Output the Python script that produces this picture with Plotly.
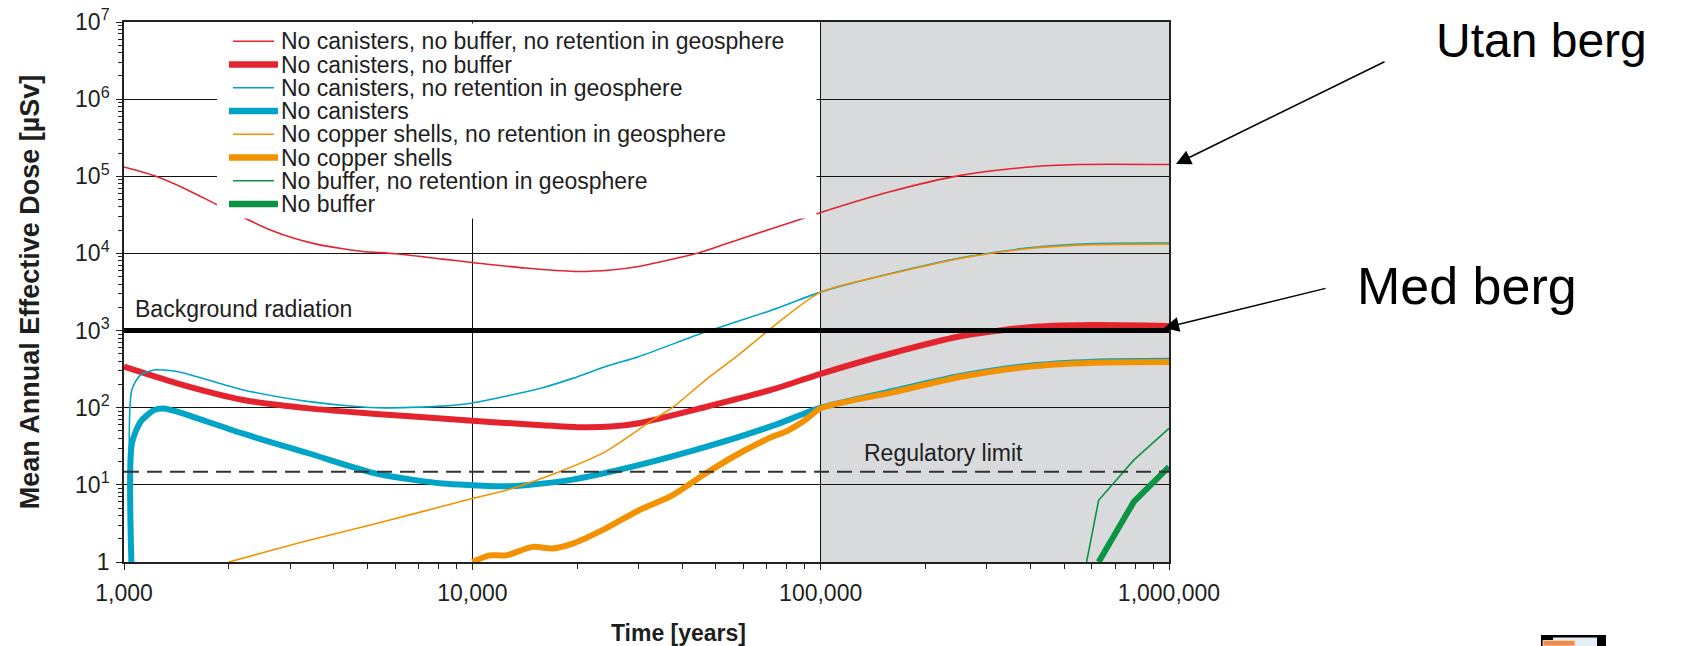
import plotly.graph_objects as go

# ---------------- data ----------------
red_thin_t = [1000, 1218, 1517, 1848, 2249, 2623, 3060, 3566, 4254, 4853, 6040, 8200, 10000, 14200, 19700,
              25000, 30000, 45000, 60000, 88000, 100000, 160000, 250000, 390000, 550000, 1000000]
red_thin_d = [132000, 102000, 67100, 42900, 27900, 20300, 15800, 13200, 11500, 10600, 9900, 8440, 7640, 6460,
              5840, 6100, 6780, 10300, 15900, 28000, 34000, 64000, 102000, 131000, 142000, 142000]

red_thick_t = [1000, 1420, 2200, 3400, 5300, 10000, 15000, 20000, 25000, 30000, 47000, 72000, 100000,
               160000, 250000, 390000, 600000, 1000000]
red_thick_d = [340, 207, 126, 98, 83, 68, 60, 56, 57, 63, 103, 170, 275, 508, 836, 1100, 1180, 1150]

cyan_thin_t = [1050, 1053, 1116, 1220, 1420, 2200, 3400, 5300, 8200, 10000, 15800, 19400, 24500, 30000,
               47000, 72600, 100000, 161000, 251000, 391000, 608000, 1000000]
cyan_thin_d = [1, 170, 266, 308, 294, 170, 120, 100, 105, 115, 180, 240, 350, 459, 970, 1850, 3150, 5560,
               8700, 11700, 13400, 13600]

cyan_thick_t = [1050, 1053, 1116, 1220, 1300, 1420, 2200, 3400, 5300, 8200, 10000, 12500, 14200, 19400,
                30000, 46800, 72600, 100000, 161000, 251000, 391000, 608000, 1000000]
cyan_thick_d = [1, 34, 66, 93, 98, 89, 46, 25.5, 14, 10.4, 9.9, 9.6, 9.9, 11.7, 18, 31, 58, 100, 165,
                258, 348, 395, 405]

orange_thin_t = [2000, 3400, 5300, 10000, 12500, 17700, 24100, 32900, 37500, 46800, 58000, 70300, 100000,
                 161000, 251000, 391000, 608000, 1000000]
orange_thin_d = [1, 1.91, 3.15, 6.65, 8.5, 14.7, 27, 69, 100, 230, 480, 980, 3150, 5500, 8600, 11500,
                 13000, 13200]

orange_thick_t = [10000, 11200, 12500, 14900, 17000, 19400, 24100, 30100, 37500, 46700, 58300, 72600,
                  79400, 90500, 100000, 161000, 251000, 391000, 608000, 1000000]
orange_thick_d = [1, 1.22, 1.22, 1.57, 1.5, 1.73, 2.71, 4.69, 7.3, 14, 25.5, 42, 49, 70, 98, 158, 250,
                  338, 383, 392]

green_thin_t = [580000, 628000, 792000, 1000000]
green_thin_d = [1, 6.3, 20.9, 54]

green_thick_t = [628000, 792000, 1000000]
green_thick_d = [1, 6.0, 17.1]

background_t = [1000, 1000000]
background_d = [1000, 1000]
regulatory_t = [1000, 1000000]
regulatory_d = [14.8, 14.8]

series_names = [
    "No canisters, no buffer, no retention in geosphere",
    "No canisters, no buffer",
    "No canisters, no retention in geosphere",
    "No canisters",
    "No copper shells, no retention in geosphere",
    "No copper shells",
    "No buffer, no retention in geosphere",
    "No buffer",
]

x_tick_vals = [1000, 10000, 100000, 1000000]
x_tick_text = ["1,000", "10,000", "100,000", "1,000,000"]
y_tick_vals = [1, 10, 100, 1000, 10000, 100000, 1000000, 10000000]
y_tick_text = ["1", "10<sup>1</sup>", "10<sup>2</sup>", "10<sup>3</sup>", "10<sup>4</sup>",
               "10<sup>5</sup>", "10<sup>6</sup>", "10<sup>7</sup>"]

# ---------------- styling ----------------
W, H = 1684, 646
ML, MR, MT, MB = 124, 515, 22, 84
PL, PR, PT, PB = ML, W - MR, MT, H - MB
FONT = "Arial, Liberation Sans, Helvetica, sans-serif"
TXT = "#1e1e1e"
RED, CYAN, ORANGE, GREEN = "#e3242f", "#00a4c6", "#f39200", "#0a9444"
THIN, THICK = 1.6, 6


def px(x):
    return (x - PL) / (PR - PL)


def py(y):
    return (PB - y) / (PB - PT)


series = [
    (red_thin_t, red_thin_d, RED, THIN),
    (red_thick_t, red_thick_d, RED, THICK),
    (cyan_thin_t, cyan_thin_d, CYAN, THIN),
    (cyan_thick_t, cyan_thick_d, CYAN, THICK),
    (orange_thin_t, orange_thin_d, ORANGE, THIN),
    (orange_thick_t, orange_thick_d, ORANGE, THICK),
    (green_thin_t, green_thin_d, GREEN, THIN),
    (green_thick_t, green_thick_d, GREEN, THICK),
]

fig = go.Figure()
for (t, d, c, w), name in zip(series, series_names):
    smooth = c != GREEN
    fig.add_trace(go.Scatter(
        x=t, y=d, mode="lines", name=name, showlegend=False,
        line=dict(color=c, width=w, shape="spline" if smooth else "linear", smoothing=0.7),
    ))

fig.add_trace(go.Scatter(x=background_t, y=background_d, mode="lines", name="Background radiation",
                         showlegend=False, line=dict(color="black", width=5)))
fig.add_trace(go.Scatter(x=regulatory_t, y=regulatory_d, mode="lines", name="Regulatory limit",
                         showlegend=False, line=dict(color="#333333", width=2, dash="15px,8px")))

shapes = []
# grey "beyond 100,000 years" region
shapes.append(dict(type="rect", xref="x", yref="paper", x0=100000, x1=1000000, y0=0, y1=1,
                   fillcolor="#d9dadc", line=dict(width=0), layer="below"))
# legend box (white, covers grid and curves)
shapes.append(dict(type="rect", xref="paper", yref="paper", x0=px(217), x1=px(816.5),
                   y0=py(218.5), y1=py(PT + 1.5), fillcolor="white", line=dict(width=0), layer="above"))

annotations = []
row0, step = 41.3, 23.25
for i, ((t, d, c, w), name) in enumerate(zip(series, series_names)):
    yc = row0 + step * i
    x0, x1 = (233, 274) if w == THIN else (229, 278)
    shapes.append(dict(type="line", xref="paper", yref="paper", x0=px(x0), x1=px(x1), y0=py(yc), y1=py(yc),
                       line=dict(color=c, width=w if w == THIN else 6.5), layer="above"))
    annotations.append(dict(text=name, xref="paper", yref="paper", x=px(279), y=py(yc), xanchor="left",
                            yanchor="middle", showarrow=False, font=dict(size=23, color=TXT, family=FONT)))

annotations.append(dict(text="Background radiation", xref="paper", yref="paper", x=px(133), y=py(309),
                        xanchor="left", yanchor="middle", showarrow=False,
                        font=dict(size=23, color=TXT, family=FONT)))
annotations.append(dict(text="Regulatory limit", xref="paper", yref="paper", x=px(862), y=py(453),
                        xanchor="left", yanchor="middle", showarrow=False,
                        font=dict(size=23, color=TXT, family=FONT)))

# slide annotations with arrows
annotations.append(dict(text="Utan berg", xref="paper", yref="paper", x=px(1434), y=py(40),
                        xanchor="left", yanchor="middle", showarrow=False,
                        font=dict(size=48, color="black", family=FONT)))
annotations.append(dict(text="Med berg", xref="paper", yref="paper", x=px(1355), y=py(286),
                        xanchor="left", yanchor="middle", showarrow=False,
                        font=dict(size=52, color="black", family=FONT)))
annotations.append(dict(text="", xref="paper", yref="paper", x=px(1176), y=py(164), ax=210, ay=-103,
                        showarrow=True, arrowhead=2, arrowsize=2.0, arrowwidth=1.5, arrowcolor="black",
                        standoff=0))
annotations.append(dict(text="", xref="paper", yref="paper", x=px(1164), y=py(328), ax=163, ay=-40,
                        showarrow=True, arrowhead=2, arrowsize=2.0, arrowwidth=1.5, arrowcolor="black",
                        standoff=0))

# small slide icon at the bottom right
shapes.append(dict(type="rect", xref="paper", yref="paper", x0=px(1541), x1=px(1606), y0=py(646),
                   y1=py(635), fillcolor="black", line=dict(width=0), layer="above"))
shapes.append(dict(type="rect", xref="paper", yref="paper", x0=px(1553), x1=px(1597), y0=py(646),
                   y1=py(637.5), fillcolor="#e6eef6", line=dict(width=0), layer="above"))
shapes.append(dict(type="rect", xref="paper", yref="paper", x0=px(1543), x1=px(1575), y0=py(646),
                   y1=py(640.5), fillcolor="#f08a4b", line=dict(color="#f9d2b8", width=1), layer="above"))

minor_x = [m * 10 ** e for e in range(3, 6) for m in range(2, 10)]
minor_y = [m * 10 ** e for e in range(0, 7) for m in range(2, 10)]

fig.update_layout(
    width=W, height=H,
    margin=dict(l=ML, r=MR, t=MT, b=MB, pad=0, autoexpand=False),
    paper_bgcolor="white", plot_bgcolor="white",
    font=dict(family=FONT, size=23, color=TXT),
    showlegend=False,
    shapes=shapes, annotations=annotations,
    xaxis=dict(
        type="log", range=[3, 6], tickmode="array", tickvals=x_tick_vals, ticktext=x_tick_text,
        ticks="outside", ticklen=6, tickwidth=1.2, tickcolor="#222", automargin=False,
        showgrid=True, gridcolor="#111", gridwidth=1.3,
        showline=True, linecolor="#222", linewidth=1.6, mirror=True,
        minor=dict(tickmode="array", tickvals=minor_x, ticks="outside", ticklen=5, tickwidth=1,
                   tickcolor="#222", showgrid=False),
        tickfont=dict(size=23, color=TXT), ticklabelstandoff=4,
        title=dict(text="&nbsp;" * 10 + "<b>Time [years]</b>", font=dict(size=23, color=TXT), standoff=20),
        zeroline=False,
    ),
    yaxis=dict(
        type="log", range=[0, 7], tickmode="array", tickvals=y_tick_vals, ticktext=y_tick_text,
        ticks="outside", ticklen=6, tickwidth=1.2, tickcolor="#222", automargin=False,
        showgrid=True, gridcolor="#111", gridwidth=1.3,
        showline=True, linecolor="#222", linewidth=1.6, mirror=True,
        minor=dict(tickmode="array", tickvals=minor_y, ticks="outside", ticklen=4, tickwidth=1,
                   tickcolor="#222", showgrid=False),
        tickfont=dict(size=23, color=TXT), ticklabelstandoff=2,
        title=dict(text="<b>Mean Annual Effective Dose [µSv]</b>", font=dict(size=27, color=TXT),
                   standoff=28),
        zeroline=False,
    ),
)

fig.write_html("out.html")
